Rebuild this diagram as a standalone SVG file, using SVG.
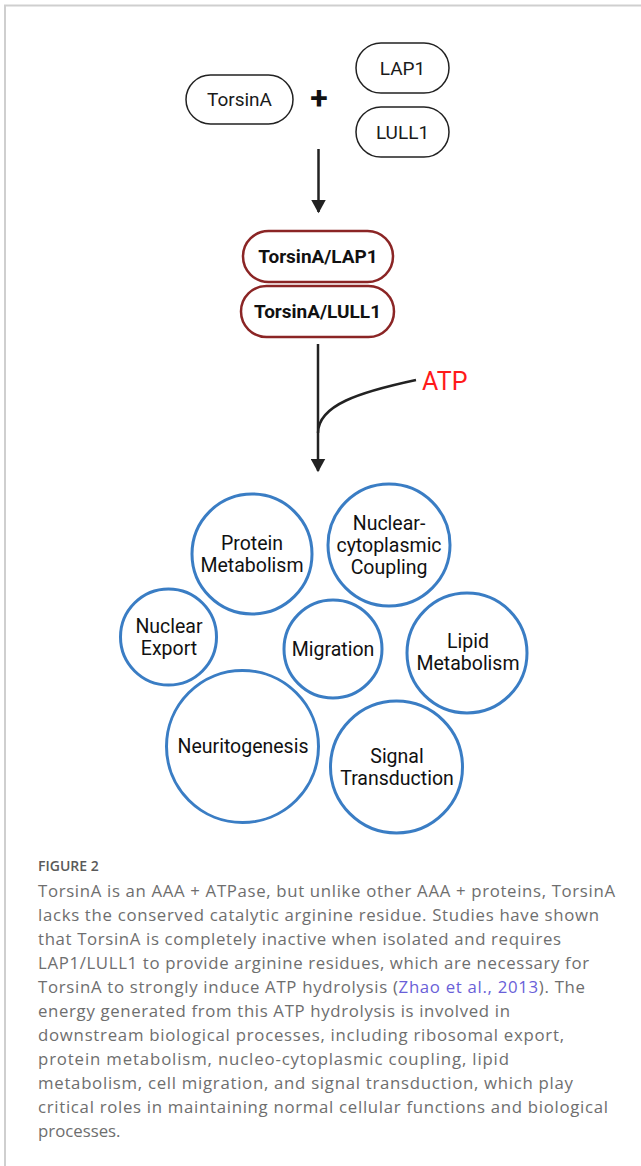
<svg xmlns="http://www.w3.org/2000/svg" width="641" height="1166" viewBox="0 0 641 1166">
<style>
.frame{fill:none;stroke:#cfcfcf;stroke-width:2}
.pill{fill:#fff;stroke:#222;stroke-width:1.5}
.cpx{fill:#fff;stroke:#8b2525;stroke-width:2.5}
.circ{fill:#fff;stroke:#3a7dc4;stroke-width:3}
.lbl{font-family:Roboto,"Liberation Sans",sans-serif;font-size:19px;fill:#1a1a1a;text-anchor:middle}
.clbl{font-family:Roboto,"Liberation Sans",sans-serif;font-size:19.5px;fill:#111;text-anchor:middle}
.bold{font-family:Roboto,"Liberation Sans",sans-serif;font-size:19px;font-weight:bold;fill:#111;text-anchor:middle}
.conn{fill:none;stroke:#222;stroke-width:2.5}
.cap{font-family:"Open Sans","Liberation Sans",sans-serif;font-size:16.8px;fill:#6e6e6e}
.capt{font-family:"Open Sans","Liberation Sans",sans-serif;font-size:14px;font-weight:600;fill:#5a5a5a}
.link{fill:#6a5fd8}
</style>
<defs>
<marker id="arr" markerWidth="6" markerHeight="6" refX="5" refY="3" orient="auto" markerUnits="strokeWidth">
<path d="M0,0 L5.5,3 L0,6 Z" fill="#222"/>
</marker>
</defs>
<rect width="641" height="1166" fill="#fff"/>
<path class="frame" d="M5,1166 V5.5 H641"/>

<g id="torsinA">
<rect class="pill" x="186" y="75" width="107" height="49" rx="24.5"/>
<text class="lbl" x="239.5" y="106">TorsinA</text>
</g>
<g id="plus">
<text x="319" y="109" font-family="Roboto,'Liberation Sans',sans-serif" font-size="32" font-weight="bold" fill="#111" text-anchor="middle">+</text>
</g>
<g id="lap1">
<rect class="pill" x="356" y="43" width="93" height="50" rx="25"/>
<text class="lbl" x="402.5" y="75">LAP1</text>
</g>
<g id="lull1">
<rect class="pill" x="356" y="107" width="93" height="50" rx="25"/>
<text class="lbl" x="402.5" y="139">LULL1</text>
</g>

<g id="complex-lap1">
<rect class="cpx" x="243" y="231" width="150" height="51" rx="25.5"/>
<text class="bold" x="318" y="263">TorsinA/LAP1</text>
</g>
<g id="complex-lull1">
<rect class="cpx" x="241" y="286" width="153" height="51" rx="25.5"/>
<text class="bold" x="317.5" y="318">TorsinA/LULL1</text>
</g>

<g id="atp">
<text x="422" y="390" font-family="Roboto,'Liberation Sans',sans-serif" font-size="25" fill="#ff1a1a">ATP</text>
</g>

<g id="connectors">
<line class="conn" x1="318.5" y1="149" x2="318.5" y2="212" marker-end="url(#arr)"/>
<line class="conn" x1="318" y1="344" x2="318" y2="471" marker-end="url(#arr)"/>
<path class="conn" d="M416,380 C360,392 318,405 318,433"/>
</g>

<g id="protein-metabolism">
<circle class="circ" cx="252" cy="554" r="60"/>
<text class="clbl" x="252" y="550">Protein</text>
<text class="clbl" x="252" y="572">Metabolism</text>
</g>
<g id="nuclear-cytoplasmic-coupling">
<circle class="circ" cx="389" cy="545" r="61"/>
<text class="clbl" x="389" y="530">Nuclear-</text>
<text class="clbl" x="389" y="552">cytoplasmic</text>
<text class="clbl" x="389" y="574">Coupling</text>
</g>
<g id="nuclear-export">
<circle class="circ" cx="168.5" cy="637" r="48"/>
<text class="clbl" x="169" y="633">Nuclear</text>
<text class="clbl" x="169" y="655">Export</text>
</g>
<g id="migration">
<circle class="circ" cx="333" cy="649" r="49"/>
<text class="clbl" x="333" y="656">Migration</text>
</g>
<g id="lipid-metabolism">
<circle class="circ" cx="467" cy="653" r="60"/>
<text class="clbl" x="468" y="648">Lipid</text>
<text class="clbl" x="468" y="670">Metabolism</text>
</g>
<g id="neuritogenesis">
<circle class="circ" cx="242.5" cy="746.5" r="76"/>
<text class="clbl" x="243" y="753">Neuritogenesis</text>
</g>
<g id="signal-transduction">
<circle class="circ" cx="396.5" cy="767" r="66"/>
<text class="clbl" x="397" y="763">Signal</text>
<text class="clbl" x="397" y="785">Transduction</text>
</g>

<g id="caption">
<text class="capt" x="38" y="871">FIGURE 2</text>
<text class="cap" x="38" y="897" textLength="577" lengthAdjust="spacing">TorsinA is an AAA + ATPase, but unlike other AAA + proteins, TorsinA</text>
<text class="cap" x="38" y="921" textLength="561" lengthAdjust="spacing">lacks the conserved catalytic arginine residue. Studies have shown</text>
<text class="cap" x="38" y="945" textLength="523" lengthAdjust="spacing">that TorsinA is completely inactive when isolated and requires</text>
<text class="cap" x="38" y="969" textLength="551" lengthAdjust="spacing">LAP1/LULL1 to provide arginine residues, which are necessary for</text>
<text class="cap" x="38" y="993" textLength="547" lengthAdjust="spacing">TorsinA to strongly induce ATP hydrolysis (<tspan class="link">Zhao et al., 2013</tspan>). The</text>
<text class="cap" x="38" y="1017" textLength="472" lengthAdjust="spacing">energy generated from this ATP hydrolysis is involved in</text>
<text class="cap" x="38" y="1041" textLength="526" lengthAdjust="spacing">downstream biological processes, including ribosomal export,</text>
<text class="cap" x="38" y="1065" textLength="471" lengthAdjust="spacing">protein metabolism, nucleo-cytoplasmic coupling, lipid</text>
<text class="cap" x="38" y="1089" textLength="535" lengthAdjust="spacing">metabolism, cell migration, and signal transduction, which play</text>
<text class="cap" x="38" y="1113" textLength="570" lengthAdjust="spacing">critical roles in maintaining normal cellular functions and biological</text>
<text class="cap" x="38" y="1137">processes.</text>
</g>
</svg>
